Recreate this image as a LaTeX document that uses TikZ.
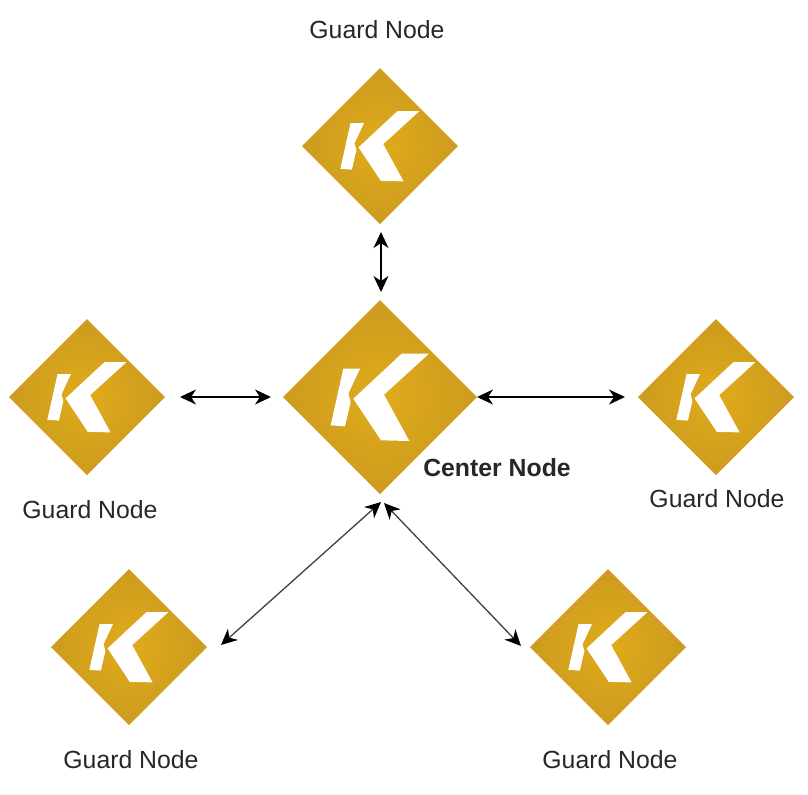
\documentclass[tikz,border=0pt]{standalone}
\usepackage{fontspec}
\usepackage{tikz}
\usetikzlibrary{arrows.meta,shapes.geometric}
\setmainfont{Liberation Sans}
\definecolor{goldin}{HTML}{E0AB1A}
\definecolor{goldout}{HTML}{CD9B1F}
\definecolor{labeltext}{HTML}{26262B}
\tikzset{
    gem/.style={diamond,shape aspect=1,inner sep=0pt,outer sep=0pt,
        inner color=goldin,outer color=goldout},
    guardgem/.style={gem,minimum width=78pt,minimum height=78pt},
    centergem/.style={gem,minimum width=97pt,minimum height=97pt},
    tag/.style={text=labeltext,font=\fontsize{12.4}{14}\selectfont,inner sep=0pt},
    link/.style={{Stealth[length=8pt,width=7.5pt,inset=2.5pt,black]}-{Stealth[length=8pt,width=7.5pt,inset=2.5pt,black]},line width=0.65pt,black},
    thinlink/.style={link,line width=0.65pt,draw=black!75}
}
% white K inside a gem
\newcommand{\klogo}[2]{
    \fill[white,shift={(#1)},scale=#2] (-110,-85)--(-60,-85)--(-95,-10)--(-88,15)--(-105,88)--(-148,85)--cycle;
    \fill[white,shift={(#1)},scale=#2] (65,-130)--(147,-130)--(12,-7)--(88,132)--(3,130)--(-80,5)--cycle;
}
\begin{document}
\begin{tikzpicture}[x=0.5pt,y=-0.5pt]
    \useasboundingbox (0,0) rectangle (808,794);
    \node[centergem] (center) at (380,397) {};
    \klogo{center}{0.3333}
    \foreach \name/\x/\y in {guardtop/380/146,guardleft/87/397,guardright/716/397,guardlowleft/129/647,guardlowright/608/647}
    {
        \node[guardgem] (\name) at (\x,\y) {};
        \klogo{\name}{0.268}
    }
    \node[tag] (tagtop) at (377,30) {Guard Node};
    \node[tag] (tagleft) at (90,510) {Guard Node};
    \node[tag] (tagright) at (717,499) {Guard Node};
    \node[tag] (taglowleft) at (131,760) {Guard Node};
    \node[tag] (taglowright) at (610,760) {Guard Node};
    \node[tag,font=\fontsize{12.4}{14}\selectfont\bfseries] (tagcenter) at (497,468) {Center Node};
    \draw[link] ([shift={(1,8)}]guardtop.south)--([shift={(1,-8)}]center.north);
    \draw[link] ([shift={(15,0)}]guardleft.east)--([shift={(-12,0)}]center.west);
    \draw[link] (center.east)--([shift={(-13,0)}]guardright.west);
    \draw[thinlink] ([shift={(1,8)}]center.south)--([shift={(14,-2)}]guardlowleft.east);
    \draw[thinlink] ([shift={(4,9)}]center.south)--([shift={(-9,-1)}]guardlowright.west);
\end{tikzpicture}
\end{document}
